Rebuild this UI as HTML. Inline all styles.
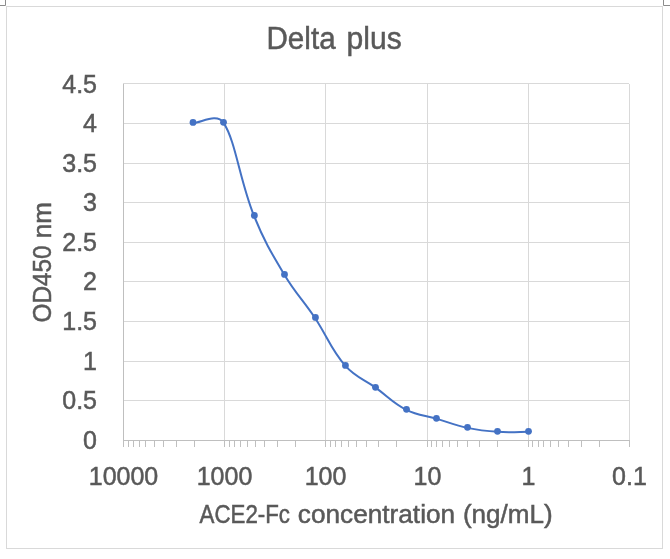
<!DOCTYPE html>
<html><head><meta charset="utf-8"><style>
html,body{margin:0;padding:0;background:#fff;}
svg{display:block;will-change:transform;}
text{font-family:"Liberation Sans",sans-serif;fill:#595959;stroke:#595959;stroke-width:0.5px;}
</style></head><body>
<svg width="670" height="559" viewBox="0 0 670 559">
<rect x="0" y="0" width="670" height="559" fill="#fff"/>
<path d="M5.5,0V5.5H0" fill="none" stroke="#8c8c8c"/>
<path d="M663.5,0V5.5H670" fill="none" stroke="#8c8c8c"/>
<rect x="6.5" y="6.5" width="656" height="542" fill="#fff" stroke="#d9d9d9"/>
<g stroke="#d9d9d9" fill="none"><path d="M123,400.5H629"/><path d="M123,361.5H629"/><path d="M123,321.5H629"/><path d="M123,281.5H629"/><path d="M123,242.5H629"/><path d="M123,202.5H629"/><path d="M123,163.5H629"/><path d="M123,123.5H629"/><path d="M123,83.5H629"/><path d="M224.5,84V440"/><path d="M325.5,84V440"/><path d="M427.5,84V440"/><path d="M528.5,84V440"/><path d="M629.5,84V440"/></g>
<g stroke="#bfbfbf" fill="none"><path d="M123.5,441V447M128.5,441V447M133.5,441V447M139.5,441V447M145.5,441V447M154.5,441V447M163.5,441V447M176.5,441V447M194.5,441V447M224.5,441V447M229.5,441V447M234.5,441V447M240.5,441V447M247.5,441V447M255.5,441V447M264.5,441V447M277.5,441V447M295.5,441V447M325.5,441V447M330.5,441V447M335.5,441V447M341.5,441V447M348.5,441V447M356.5,441V447M366.5,441V447M378.5,441V447M396.5,441V447M427.5,441V447M431.5,441V447M436.5,441V447M442.5,441V447M449.5,441V447M457.5,441V447M467.5,441V447M479.5,441V447M497.5,441V447M528.5,441V447M532.5,441V447M538.5,441V447M543.5,441V447M550.5,441V447M558.5,441V447M568.5,441V447M581.5,441V447M599.5,441V447M629.5,441V447"/><path d="M123,440.5H630"/><path d="M123.5,84V441"/></g>
<g font-size="31"><text x="266.47" y="48.8" textLength="69.13" lengthAdjust="spacingAndGlyphs">Delta</text><text x="346.56" y="48.8" textLength="55.12" lengthAdjust="spacingAndGlyphs">plus</text></g>
<g font-size="25"><text x="97" y="448.5" text-anchor="end">0</text><text x="97" y="409.0" text-anchor="end">0.5</text><text x="97" y="369.5" text-anchor="end">1</text><text x="97" y="330.0" text-anchor="end">1.5</text><text x="97" y="290.4" text-anchor="end">2</text><text x="97" y="250.9" text-anchor="end">2.5</text><text x="97" y="211.4" text-anchor="end">3</text><text x="97" y="171.9" text-anchor="end">3.5</text><text x="97" y="132.4" text-anchor="end">4</text><text x="97" y="92.9" text-anchor="end">4.5</text></g>
<g font-size="25"><text x="123.5" y="485" text-anchor="middle">10000</text><text x="224.5" y="485" text-anchor="middle">1000</text><text x="325.5" y="485" text-anchor="middle">100</text><text x="427.5" y="485" text-anchor="middle">10</text><text x="528.5" y="485" text-anchor="middle">1</text><text x="629.5" y="485" text-anchor="middle">0.1</text></g>
<g font-size="25"><text x="199.56" y="523" textLength="90.43" lengthAdjust="spacingAndGlyphs">ACE2-Fc</text><text x="297.89" y="523" textLength="157.21" lengthAdjust="spacingAndGlyphs">concentration</text><text x="462.93" y="523" textLength="89.78" lengthAdjust="spacingAndGlyphs">(ng/mL)</text></g>
<g transform="rotate(-90)" font-size="25"><text x="-322.5" y="50.8" textLength="77.1" lengthAdjust="spacingAndGlyphs">OD450</text><text x="-238.2" y="50.8" textLength="36.03" lengthAdjust="spacingAndGlyphs">nm</text></g>
<path d="M193.14,122.94 C200.75,122.92 216.92,112.67 223.60,122.86 C235.79,141.46 239.49,179.57 254.06,215.94 C263.94,240.60 270.91,252.14 284.53,274.94 C295.34,293.04 303.27,300.42 314.99,317.94 C327.64,336.84 330.52,348.80 345.46,365.94 C355.32,377.26 363.74,379.08 375.92,387.86 C388.11,396.65 392.99,403.04 406.39,409.86 C417.71,415.62 424.66,415.26 436.85,418.86 C449.04,422.46 454.89,425.21 467.31,427.86 C479.33,430.42 485.51,431.07 497.78,431.86 C509.94,432.65 520.63,431.81 528.24,431.80" fill="none" stroke="#4472c4" stroke-width="2.0" stroke-linecap="round" stroke-linejoin="round"/>
<g fill="#4472c4"><circle cx="193.00" cy="122.44" r="3.4"/><circle cx="223.50" cy="122.36" r="3.4"/><circle cx="254.36" cy="215.44" r="3.4"/><circle cx="284.50" cy="274.44" r="3.4"/><circle cx="315.44" cy="317.44" r="3.4"/><circle cx="345.44" cy="365.44" r="3.4"/><circle cx="375.50" cy="387.36" r="3.4"/><circle cx="406.50" cy="409.36" r="3.4"/><circle cx="436.44" cy="418.36" r="3.4"/><circle cx="467.50" cy="427.36" r="3.4"/><circle cx="497.50" cy="431.36" r="3.4"/><circle cx="528.50" cy="431.30" r="3.4"/></g>
</svg>
</body></html>
